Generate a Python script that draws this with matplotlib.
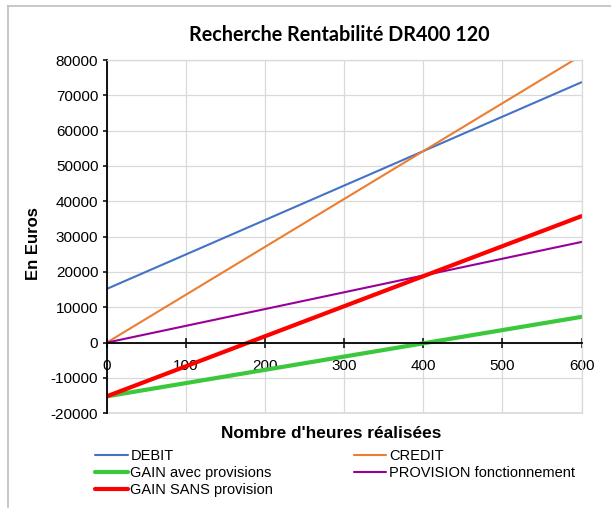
import matplotlib
matplotlib.use("Agg")
import matplotlib.pyplot as plt
from matplotlib.lines import Line2D

# Data
heures = [0, 100, 200, 300, 400, 500, 600]
debit = [15200, 24950, 34700, 44450, 54200, 63950, 73700]
credit = [0, 13550, 27100, 40650, 54200, 67750, 81300]
gain_avec = [-15200, -11450, -7700, -3950, -200, 3550, 7300]
provision = [0, 4750, 9500, 14250, 19000, 23750, 28500]
gain_sans = [-15200, -6700, 1800, 10300, 18800, 27300, 35800]

title = "Recherche Rentabilité DR400 120"
xlabel = "Nombre d'heures réalisées"
ylabel = "En Euros"

plt.rcParams['font.family'] = ['Liberation Sans', 'DejaVu Sans']
plt.rcParams['axes.unicode_minus'] = False

W, H = 611, 508
fig = plt.figure(figsize=(W / 100, H / 100), dpi=100)

L, R, T, B = 106.7, 581.5, 60.0, 413.3
ax = fig.add_axes([L / W, 1 - B / H, (R - L) / W, (B - T) / H])

grid_c = '#d9d9d9'
l_debit, = ax.plot(heures, debit, color='#4472C4', lw=1.5, label='DEBIT', solid_capstyle='round')
l_credit, = ax.plot(heures, credit, color='#ED7D31', lw=1.5, label='CREDIT', solid_capstyle='round')
l_gavec, = ax.plot(heures, gain_avec, color='#3CC83C', lw=3, label='GAIN avec provisions', solid_capstyle='round')
l_prov, = ax.plot(heures, provision, color='#990099', lw=1.5, label='PROVISION fonctionnement', solid_capstyle='round')
l_gsans, = ax.plot(heures, gain_sans, color='#FF0000', lw=3, label='GAIN SANS provision', solid_capstyle='round')

ax.set_xlim(0, 600)
ax.set_ylim(-20000, 80000)
ax.set_xticks(range(0, 601, 100))
ax.set_yticks(range(-20000, 80001, 10000))
ax.grid(True, color=grid_c, lw=0.9)
ax.set_axisbelow(True)

ax.spines['bottom'].set_position(('data', 0))
ax.spines['bottom'].set_color('black')
ax.spines['bottom'].set_linewidth(1.3)
ax.spines['left'].set_color('black')
ax.spines['left'].set_linewidth(1.3)
for s in ('top', 'right'):
    ax.spines[s].set_color(grid_c)
    ax.spines[s].set_linewidth(0.9)
ax.axhline(-20000, color=grid_c, lw=1.2, clip_on=False, zorder=0.5)

ax.tick_params(axis='y', direction='out', length=3, width=1.1, labelsize=11, pad=3, colors='black')
ax.tick_params(axis='x', direction='inout', length=7, width=1.1, labelsize=11, pad=8, colors='black')
for lab in ax.get_xticklabels():
    lab.set_zorder(10)

fig.text(339 / W, 1 - 35 / H, title, ha='center', va='center', fontsize=14.2,
         fontweight='bold', family=['Lato', 'DejaVu Sans'])
fig.text(331 / W, 1 - 433 / H, xlabel, ha='center', va='center', fontsize=12.4, fontweight='bold')
fig.text(33 / W, 1 - 243.5 / H, ylabel, ha='center', va='center', fontsize=12,
         fontweight='bold', rotation=90)

handles = [l_debit, l_gavec, l_gsans, l_credit, l_prov]
fig.legend(handles=handles, labels=[h.get_label() for h in handles], ncol=2,
           loc='upper left', bbox_to_anchor=(95 / W, 1 - 449.5 / H), frameon=False,
           fontsize=10.5, borderpad=0, borderaxespad=0, handlelength=2.25,
           handletextpad=0.18, columnspacing=5.5, labelspacing=0.18)

# chart frame
fig.add_artist(Line2D([8 / W, 8 / W], [0, 1 - 6 / H], color='#bfbfbf', lw=1.2, transform=fig.transFigure))
fig.add_artist(Line2D([8 / W, 1], [1 - 6 / H, 1 - 6 / H], color='#bfbfbf', lw=1.2, transform=fig.transFigure))

fig.savefig('out.png', dpi=100)
